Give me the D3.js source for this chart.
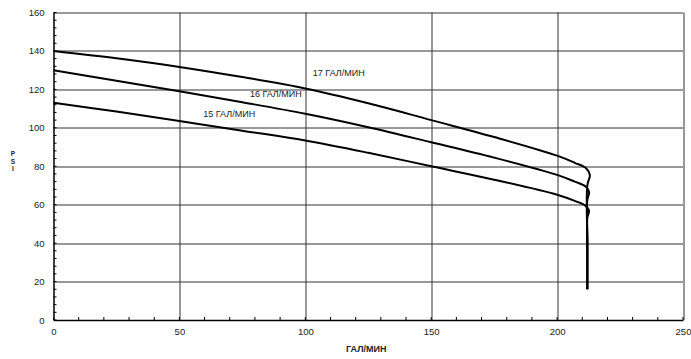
<!DOCTYPE html>
<html>
<head>
<meta charset="utf-8">
<script src="https://cdn.jsdelivr.net/npm/d3@7"></script>
<style>
  body { margin: 0; background: #fff; }
  svg { display: block; font-family: Arial, "Liberation Sans", sans-serif; }
</style>
</head>
<body>
<svg id="chart" width="691" height="359"></svg>
<script>
// pump curves (gpm, psi)
var curve17 = [[0,140],[25,136.2],[50,131.7],[75,126.4],[100,120.5],[125,112.8],[150,104],[175,95.2],[200,85.5],[207,81.8],[211.5,79],[213,75.5],[212,70],[212,40],[212,16]];
var curve16 = [[0,130],[25,124.5],[50,119],[75,113.3],[100,107.3],[125,100.3],[150,92.5],[175,84.5],[200,75.5],[207,72],[211.3,69.5],[212.7,66.5],[212,62.5],[212,40],[212,16]];
var curve15 = [[0,113],[25,108.5],[50,103.5],[75,98.5],[100,93.4],[125,87],[150,80],[175,73],[200,65.2],[207,62],[211.2,59.5],[212.7,57],[212,53],[212,40],[212,16]];
var seriesNames = ['17 ГАЛ/МИН', '16 ГАЛ/МИН', '15 ГАЛ/МИН'];
var labelAt = [[103, 127], [78, 116], [59.5, 105.5]];  // data coords for the in-plot labels

var xTicks = [0, 50, 100, 150, 200, 250];
var yTicks = [0, 20, 40, 60, 80, 100, 120, 140, 160];

var margin = {top: 12.5, right: 8, bottom: 39, left: 53.5},
    width = 691 - margin.left - margin.right,
    height = 359 - margin.top - margin.bottom;

var svg = d3.select('#chart');
var g = svg.append('g').attr('transform', 'translate(' + margin.left + ',' + margin.top + ')');

var x = d3.scaleLinear().domain([0, 250]).range([0, width]);
var y = d3.scaleLinear().domain([0, 160]).range([height, 0]);

// grid
g.append('g').selectAll('line.h')
  .data(yTicks.slice(1))
  .enter().append('line')
  .attr('x1', 0).attr('x2', width)
  .attr('y1', function(d) { return Math.round(y(d)) + 0.5; })
  .attr('y2', function(d) { return Math.round(y(d)) + 0.5; })
  .attr('stroke', '#333').attr('stroke-width', 1);

g.append('g').selectAll('line.v')
  .data(xTicks.slice(1))
  .enter().append('line')
  .attr('y1', 0).attr('y2', height)
  .attr('x1', function(d) { return Math.round(x(d)) + 0.5; })
  .attr('x2', function(d) { return Math.round(x(d)) + 0.5; })
  .attr('stroke', '#333').attr('stroke-width', 1);

// axes
var xAxis = d3.axisBottom(x).tickValues(xTicks).tickSize(0).tickPadding(8);
var yAxis = d3.axisLeft(y).tickValues(yTicks).tickSize(0).tickPadding(9);

var gx = g.append('g').attr('transform', 'translate(0,' + height + ')').call(xAxis);
var gy = g.append('g').call(yAxis);
[gx, gy].forEach(function(a) {
  a.select('.domain').attr('stroke', '#000').attr('stroke-width', 1.5);
  a.selectAll('text').attr('font-size', 9.5).attr('fill', '#222')
    .attr('font-family', 'Arial, "Liberation Sans", sans-serif');
});

// minor ticks, inside
var xMinor = d3.range(0, 251, 10), yMinor = d3.range(0, 161, 4);
g.append('g').selectAll('line')
  .data(xMinor).enter().append('line')
  .attr('x1', function(d) { return x(d); }).attr('x2', function(d) { return x(d); })
  .attr('y1', height).attr('y2', height - 3)
  .attr('stroke', '#000');
g.append('g').selectAll('line')
  .data(yMinor).enter().append('line')
  .attr('y1', function(d) { return y(d); }).attr('y2', function(d) { return y(d); })
  .attr('x1', 0).attr('x2', 3)
  .attr('stroke', '#000');

// curves
var line = d3.line()
  .x(function(d) { return x(d[0]); })
  .y(function(d) { return y(d[1]); })
  .curve(d3.curveCatmullRom.alpha(0.5));

g.append('g').selectAll('path')
  .data([curve17, curve16, curve15])
  .enter().append('path')
  .attr('d', line)
  .attr('fill', 'none')
  .attr('stroke', '#000')
  .attr('stroke-width', 2);

g.append('g').selectAll('text')
  .data(seriesNames)
  .enter().append('text')
  .attr('x', function(d, i) { return x(labelAt[i][0]); })
  .attr('y', function(d, i) { return y(labelAt[i][1]); })
  .attr('font-size', 9)
  .attr('fill', '#222')
  .text(function(d) { return d; });

// titles
svg.append('text')
  .attr('x', margin.left + width / 2 - 2)
  .attr('y', 352)
  .attr('text-anchor', 'middle')
  .attr('font-size', 9)
  .attr('font-weight', 'bold')
  .attr('fill', '#222')
  .text('ГАЛ/МИН');

svg.append('g').selectAll('text')
  .data(['P', 'S', 'I'])
  .enter().append('text')
  .attr('x', 13)
  .attr('y', function(d, i) { return 156 + i * 7.5; })
  .attr('text-anchor', 'middle')
  .attr('font-size', 6.5)
  .attr('font-weight', 'bold')
  .attr('fill', '#222')
  .text(function(d) { return d; });
</script>
</body>
</html>
